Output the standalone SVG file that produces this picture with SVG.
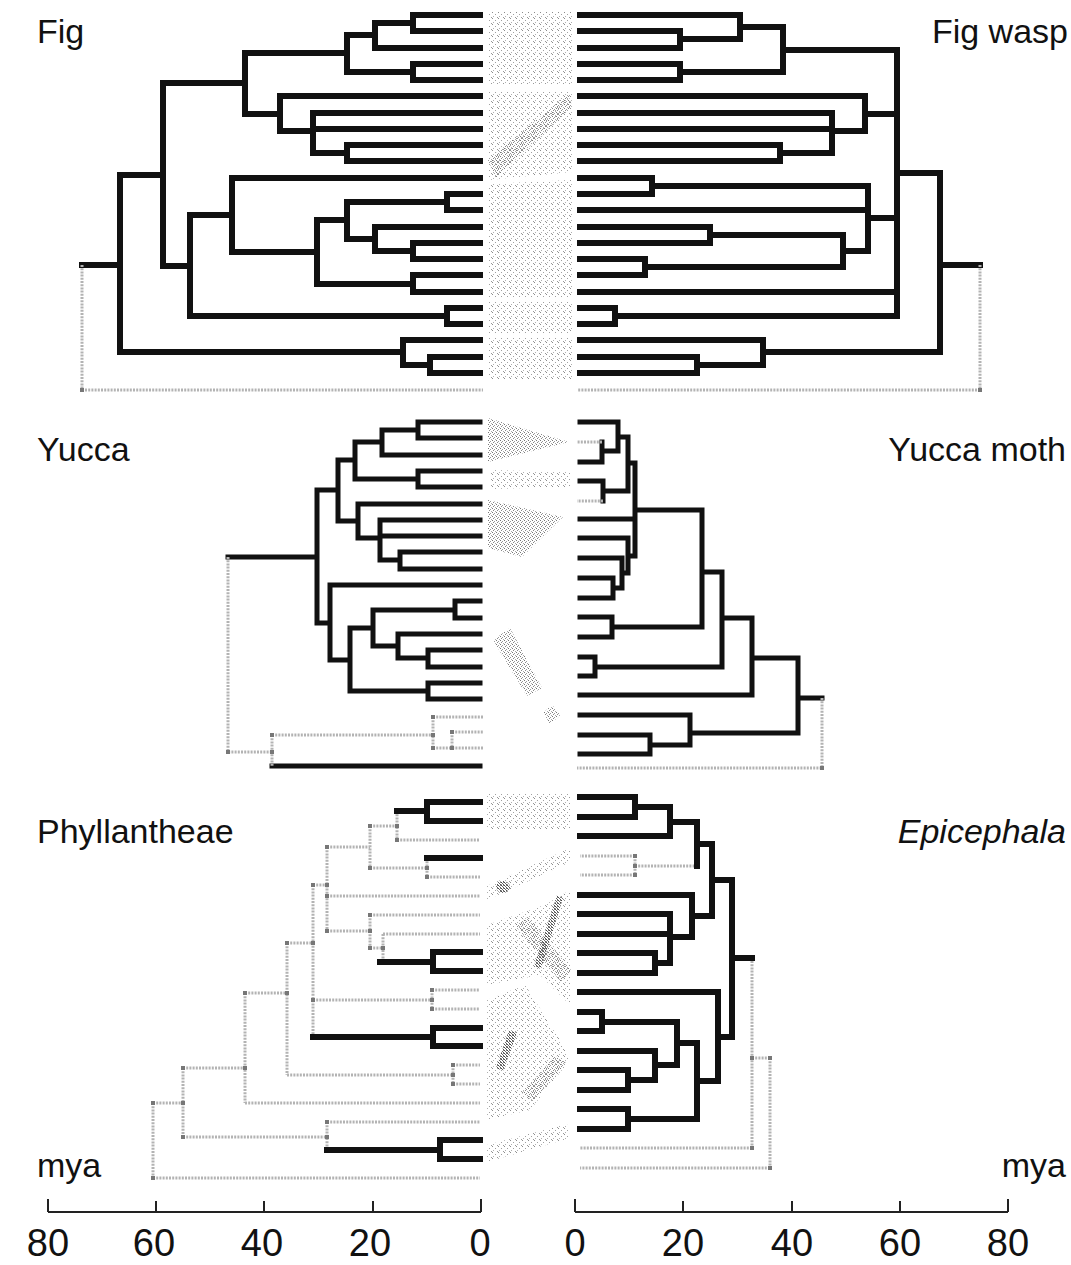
<svg xmlns="http://www.w3.org/2000/svg" width="1071" height="1265" viewBox="0 0 1071 1265">
  <style>
    .lbl { font-family: "Liberation Sans", Arial, sans-serif; font-size: 34px; fill: #111; }
    .num { font-family: "Liberation Sans", Arial, sans-serif; font-size: 38px; fill: #111; text-anchor: middle; }
    .br { fill: none; stroke: #111; stroke-width: 6; stroke-linecap: square; }
    .brm { fill: none; stroke: #111; stroke-width: 5; stroke-linecap: square; }
    .gr { fill: none; stroke: #b3b3b3; stroke-width: 3; stroke-dasharray: 2 1.2; }
    .ax { fill: none; stroke: #222; stroke-width: 2; }
    .nd { fill: #777; }
    .lt { fill: url(#dots); }
    .dn { fill: url(#dense); }
    .dk { fill: url(#dark); }
  </style>
  <defs>
    <pattern id="dots" width="6" height="6" patternUnits="userSpaceOnUse">
      <rect x="0" y="0" width="1" height="1" fill="#8c8c8c"/>
      <rect x="3" y="2" width="1" height="1" fill="#a0a0a0"/>
      <rect x="1" y="4" width="1" height="1" fill="#b0b0b0"/>
      <rect x="5" y="5" width="1" height="1" fill="#999"/>
    </pattern>
    <pattern id="dense" width="4" height="4" patternUnits="userSpaceOnUse">
      <rect x="0" y="0" width="1" height="1" fill="#777"/>
      <rect x="2" y="1" width="1" height="1" fill="#999"/>
      <rect x="1" y="2" width="1" height="1" fill="#888"/>
      <rect x="3" y="3" width="1" height="1" fill="#aaa"/>
    </pattern>
    <pattern id="dark" width="3" height="3" patternUnits="userSpaceOnUse">
      <rect x="0" y="0" width="1" height="1" fill="#444"/>
      <rect x="1" y="1" width="1" height="1" fill="#666"/>
      <rect x="2" y="2" width="1" height="1" fill="#555"/>
      <rect x="2" y="0" width="1" height="1" fill="#888"/>
    </pattern>
    <rect id="m" x="-2" y="-2" width="4" height="4" class="nd"/>
  </defs>
  <rect width="1071" height="1265" fill="#fff"/>

  <!-- labels -->
  <g id="labels">
    <text class="lbl" x="37" y="43">Fig</text>
    <text class="lbl" x="1068" y="43" text-anchor="end">Fig wasp</text>
    <text class="lbl" x="37" y="461">Yucca</text>
    <text class="lbl" x="1066" y="461" text-anchor="end">Yucca moth</text>
    <text class="lbl" x="37" y="843">Phyllantheae</text>
    <text class="lbl" x="1066" y="843" text-anchor="end" font-style="italic">Epicephala</text>
    <text class="lbl" x="37" y="1177">mya</text>
    <text class="lbl" x="1066" y="1177" text-anchor="end">mya</text>
  </g>

  <!-- stippled associations between the paired trees -->
  <g id="connectors">
    <polygon class="lt" points="488,12 572,12 572,84 488,84"/>
    <polygon class="lt" points="488,92 572,92 572,172 488,180"/>
    <polygon class="dn" points="488,160 568,94 572,106 496,178"/>
    <polygon class="lt" points="488,184 572,180 572,297 488,297"/>
    <polygon class="lt" points="488,302 572,302 572,333 488,333"/>
    <polygon class="lt" points="488,338 572,338 572,380 488,380"/>

    <polygon class="dn" points="488,418 569,442 488,462"/>
    <polygon class="lt" points="490,470 570,472 570,487 490,489"/>
    <polygon class="dn" points="488,500 563,517 522,557 488,548"/>
    <polygon class="dn" points="493,640 510,628 542,688 527,696"/>
    <polygon class="dn" points="543,713 552,705 561,715 550,724"/>

    <polygon class="lt" points="487,793 570,793 570,830 487,830"/>
    <polygon class="lt" points="487,886 570,848 570,862 487,900"/>
    <ellipse class="dk" cx="503" cy="887" rx="7" ry="6"/>
    <polygon class="lt" points="487,925 545,905 570,890 570,1005 540,975 487,985"/>
    <polygon class="dn" points="515,925 528,917 571,970 561,982"/>
    <polygon class="dk" points="557,895 563,898 541,969 534,966"/>
    <polygon class="lt" points="487,1000 525,985 560,1040 570,1060 530,1110 487,1120"/>
    <polygon class="dk" points="509,1030 517,1033 503,1071 496,1068"/>
    <polygon class="dn" points="555,1056 566,1063 533,1101 522,1093"/>
    <polygon class="lt" points="487,1145 567,1124 570,1138 487,1162"/>
  </g>

  <!-- Fig (host) -->
  <g id="fig-tree">
    <path class="br" d="M413 15H480M413 31H480M375 48H480M413 64H480M413 80H480M280 96H480M313 113H480M313 129H480M347 145H480M347 161H480M232 178H480M447 194H480M447 210H480M375 227H480M413 243H480M413 259H480M413 275H480M413 292H480M447 308H480M447 324H480M403 340H480M430 357H480M430 373H480
      M413 15V31M375 23H413M375 23V48M413 64V80M347 35H375M347 72H413M347 35V72M347 145V161M313 153H347M313 113V153M280 131H313M280 96V131M245 53H347M245 114H280M245 53V114
      M447 194V210M413 243V259M375 251H413M375 227V251M347 202H447M347 239H375M347 202V239M413 275V292M317 220H347M317 284H413M317 220V284M232 252H317M232 178V252M447 308V324M190 215H232M190 316H447M190 215V316M163 83H245M163 266H190M163 83V266M430 357V373M403 365H430M403 340V365M120 175H163M120 352H403M120 175V352M82 265H120"/>
    <path class="gr" d="M82 265V390H483"/>
    <use href="#m" x="82" y="390"/>
  </g>

  <!-- Fig wasp (pollinator) -->
  <g id="figwasp-tree">
    <path class="br" d="M740 15H580M680 31H580M680 48H580M680 64H580M680 80H580M865 96H580M832 113H580M832 129H580M780 145H580M780 161H580M652 178H580M652 194H580M868 210H580M710 227H580M710 243H580M645 259H580M645 275H580M897 292H580M615 308H580M615 324H580M763 340H580M697 357H580M697 373H580
      M680 31V48M680 39H740M740 15V39M740 27H783M680 64V80M680 72H783M783 27V72M783 50H897M780 145V161M780 153H832M832 113V153M832 131H865M865 96V131M865 114H897M652 178V194M652 186H868M710 227V243M710 235H843M645 259V275M645 267H843M843 235V267M843 251H868M868 186V251M868 218H897M615 308V324M615 316H897M897 50V316M897 173H940M697 357V373M697 365H763M763 340V365M763 352H940M940 173V352M940 265H980"/>
    <path class="gr" d="M980 265V390H577"/>
    <use href="#m" x="980" y="390"/>
  </g>

  <!-- Yucca (host) -->
  <g id="yucca-tree">
    <path class="brm" d="M418 422H480M418 438H480M382 455H480M418 471H480M418 487H480M358 504H480M380 520H480M380 536H480M400 552H480M400 569H480M330 585H480M455 601H480M455 618H480M398 634H480M428 650H480M428 667H480M428 683H480M428 699H480
      M418 422V438M382 430H418M382 430V455M418 471V487M355 442H382M355 479H418M355 442V479M400 552V569M380 560H400M380 520V560M358 538H380M358 504V538M338 460H355M338 521H358M338 460V521M455 601V618M428 650V667M398 658H428M398 634V658M373 610H455M373 646H398M373 610V646M428 683V699M350 628H373M350 691H428M350 628V691M330 660H350M330 585V660M317 490H338M317 623H330M317 490V623M228 557H317
      M272 766H480"/>
    <path class="gr" d="M228 557V752H272M272 735V766M272 735H433M433 717V748M433 717H483M433 748H483M452 732H483M452 732V748"/>
    <use href="#m" x="228" y="752"/><use href="#m" x="272" y="735"/><use href="#m" x="272" y="752"/>
    <use href="#m" x="433" y="717"/><use href="#m" x="433" y="735"/><use href="#m" x="433" y="748"/>
    <use href="#m" x="452" y="732"/><use href="#m" x="452" y="748"/>
  </g>

  <!-- Yucca moth (pollinator) -->
  <g id="yuccamoth-tree">
    <path class="brm" d="M618 422H580M602 462H580M603 481H580M635 519H580M628 538H580M622 558H580M613 578H580M613 598H580M612 617H580M612 637H580M595 657H580M595 676H580M752 695H580M690 715H580M650 735H580M650 754H580
      M602 442V462M602 451H618M618 422V451M618 437H628M603 481V501M603 491H628M628 437V491M628 463H635M613 578V598M613 588H622M622 558V588M622 573H628M628 538V573M628 556H635M635 463V556M635 510H702M612 617V637M612 627H702M702 510V627M702 572H722M595 657V676M595 667H722M722 572V667M722 618H752M752 618V695M752 658H798M650 735V754M650 745H690M690 715V745M690 733H798M798 658V733M798 698H822"/>
    <path class="gr" d="M822 698V768H577M602 442H577M603 501H577"/>
    <use href="#m" x="822" y="768"/>
  </g>

  <!-- Phyllantheae (host) -->
  <g id="phyllantheae-tree">
    <path class="gr" d="M397 840H480M397 811V840M370 826H397M427 877H480M427 858V877M370 868H427M370 826V868M327 847H370M327 896H480M370 915H480M383 934H480M383 934V962M370 948H383M370 915V948M327 931H370M327 847V931M313 885H327M432 990H480M432 1009H480M432 990V1009M313 1000H432M313 885V1037M287 943H313M453 1065H480M453 1084H480M453 1065V1084M287 1075H453M287 943V1075M245 993H287M245 1103H480M245 993V1103M183 1068H245M327 1122H480M327 1122V1150M183 1137H327M183 1068V1137M153 1103H183M153 1178H480M153 1103V1178"/>
    <path class="br" d="M427 802H480M427 821H480M427 802V821M397 811H427M427 858H480M433 952H480M433 971H480M433 952V971M380 962H433M433 1028H480M433 1046H480M433 1028V1046M313 1037H433M440 1140H480M440 1159H480M440 1140V1159M327 1150H440"/>
    <use href="#m" x="397" y="826"/><use href="#m" x="397" y="840"/><use href="#m" x="427" y="868"/><use href="#m" x="427" y="877"/>
    <use href="#m" x="370" y="826"/><use href="#m" x="370" y="868"/><use href="#m" x="327" y="847"/><use href="#m" x="383" y="948"/>
    <use href="#m" x="370" y="915"/><use href="#m" x="370" y="931"/><use href="#m" x="370" y="948"/><use href="#m" x="327" y="931"/>
    <use href="#m" x="327" y="896"/><use href="#m" x="327" y="885"/><use href="#m" x="313" y="885"/><use href="#m" x="432" y="990"/>
    <use href="#m" x="432" y="1000"/><use href="#m" x="432" y="1009"/><use href="#m" x="313" y="1000"/><use href="#m" x="313" y="943"/>
    <use href="#m" x="287" y="943"/><use href="#m" x="453" y="1065"/><use href="#m" x="453" y="1075"/><use href="#m" x="453" y="1084"/>
    <use href="#m" x="287" y="993"/><use href="#m" x="245" y="993"/><use href="#m" x="245" y="1068"/><use href="#m" x="183" y="1068"/>
    <use href="#m" x="327" y="1122"/><use href="#m" x="327" y="1137"/><use href="#m" x="183" y="1137"/><use href="#m" x="183" y="1103"/>
    <use href="#m" x="153" y="1103"/><use href="#m" x="153" y="1178"/>
  </g>

  <!-- Epicephala (pollinator) -->
  <g id="epicephala-tree">
    <path class="br" d="M635 797H580M635 817H580M670 836H580M692 895H580M670 914H580M670 934H580M655 953H580M655 973H580M718 992H580M602 1012H580M602 1031H580M655 1051H580M628 1070H580M628 1090H580M628 1109H580M628 1129H580
      M635 797V817M635 807H670M670 807V836M670 822H697M697 822V866M697 844H712M655 953V973M655 963H670M670 914V963M670 937H692M692 895V937M692 916H712M712 844V916M712 880H732M602 1012V1031M602 1022H677M628 1070V1090M628 1080H655M655 1051V1080M655 1065H677M677 1022V1065M677 1043H697M628 1109V1129M628 1119H697M697 1043V1119M697 1081H718M718 992V1081M718 1037H732M732 880V1037M732 958H752"/>
    <path class="gr" d="M635 856H580M635 875H580M635 856V875M635 866H694M752 961V1148M752 1148H580M752 1058H770M770 1058V1168M770 1168H580"/>
    <use href="#m" x="635" y="856"/><use href="#m" x="635" y="866"/><use href="#m" x="635" y="875"/>
    <use href="#m" x="752" y="1058"/><use href="#m" x="770" y="1058"/><use href="#m" x="752" y="1148"/><use href="#m" x="770" y="1168"/>
  </g>

  <!-- time axes -->
  <g id="axis-left">
    <path class="ax" d="M48 1212H481M48 1199V1212M156 1201V1212M264 1201V1212M373 1201V1212M481 1199V1212"/>
    <text class="num" x="48" y="1256">80</text>
    <text class="num" x="154" y="1256">60</text>
    <text class="num" x="262" y="1256">40</text>
    <text class="num" x="370" y="1256">20</text>
    <text class="num" x="480" y="1256">0</text>
  </g>
  <g id="axis-right">
    <path class="ax" d="M575 1212H1008M575 1199V1212M683 1201V1212M792 1201V1212M900 1201V1212M1008 1199V1212"/>
    <text class="num" x="575" y="1256">0</text>
    <text class="num" x="683" y="1256">20</text>
    <text class="num" x="792" y="1256">40</text>
    <text class="num" x="900" y="1256">60</text>
    <text class="num" x="1008" y="1256">80</text>
  </g>
</svg>
